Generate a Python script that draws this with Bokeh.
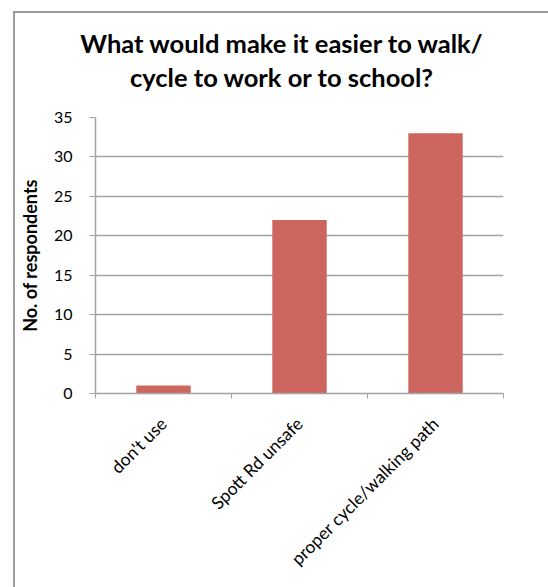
from bokeh.plotting import figure
from bokeh.models import Range1d, FixedTicker, Div
from bokeh.layouts import column
from bokeh.embed import file_html
from bokeh.resources import INLINE
import math

# Survey answers and number of respondents
categories = ["don't use", "Spott Rd unsafe", "proper cycle/walking path"]
respondents = [1, 22, 33]
y_ticks = [0, 5, 10, 15, 20, 25, 30, 35]
title_lines = ["What would make it easier to walk/", "cycle to work or to school?"]

FONT = "Lato"
GRID = "#a3a3a3"
BAR = "#CD665F"
W = 533
TITLE_H = 94

positions = [i + 0.5 for i in range(len(categories))]
boundaries = [float(i) for i in range(len(categories) + 1)]

p = figure(
    width=W, height=574 - TITLE_H,
    x_range=Range1d(0, len(categories)), y_range=Range1d(0, 35),
    output_backend="svg", toolbar_location=None,
    min_border_left=75, min_border_right=45,
    min_border_top=10, min_border_bottom=194,
)
p.title = None
p.outline_line_color = None
p.background_fill_color = "white"
p.border_fill_color = "white"

p.vbar(x=positions, top=respondents, width=0.4, fill_color=BAR, line_color=None)

# x axis: labels at bar centres, tick marks at category boundaries
xa = p.xaxis[0]
xa.ticker = FixedTicker(ticks=positions, minor_ticks=boundaries)
xa.major_label_overrides = {pos: c for pos, c in zip(positions, categories)}
xa.major_label_orientation = math.pi / 4
xa.major_tick_line_color = None
xa.minor_tick_in = 0
xa.minor_tick_out = 5
xa.minor_tick_line_color = GRID
xa.axis_line_color = GRID
xa.axis_line_width = 1.5
xa.major_label_text_font = FONT
xa.major_label_text_font_size = "17.5px"
xa.major_label_text_color = "black"
xa.major_label_standoff = 21

ya = p.yaxis[0]
ya.ticker = FixedTicker(ticks=y_ticks)
ya.minor_tick_line_color = None
ya.major_tick_in = 0
ya.major_tick_out = 6
ya.major_tick_line_color = GRID
ya.axis_line_color = GRID
ya.axis_line_width = 1.5
ya.major_label_text_font = FONT
ya.major_label_text_font_size = "16px"
ya.major_label_text_color = "black"
ya.major_label_standoff = 17
ya.axis_label = "No. of respondents"
ya.axis_label_text_font = FONT
ya.axis_label_text_font_style = "bold"
ya.axis_label_text_font_size = "18px"
ya.axis_label_text_color = "black"
ya.axis_label_standoff = 10

p.xgrid.grid_line_color = None
p.ygrid.grid_line_color = GRID
p.ygrid.grid_line_width = 1.3
p.ygrid.ticker = FixedTicker(ticks=y_ticks)

# chart title: two centred bold lines above the plot
title_html = (
    f'<div style="width:{W - 6}px; padding:13px 0 0 6px; margin:0; text-align:center; '
    f'font-family:{FONT}; font-weight:bold; font-size:25.5px; line-height:34px; color:black;">'
    + "<br>".join(title_lines) + "</div>"
)
title = Div(text=title_html, width=W, height=TITLE_H, margin=0)

chart = column(title, p, spacing=0)
chart.margin = (11, 0, 0, 13)
chart.styles = {"border-left": "2px solid #9d9d9d", "border-top": "2px solid #9d9d9d",
                "background-color": "white"}

open("out.html", "w").write(file_html(chart, INLINE))
